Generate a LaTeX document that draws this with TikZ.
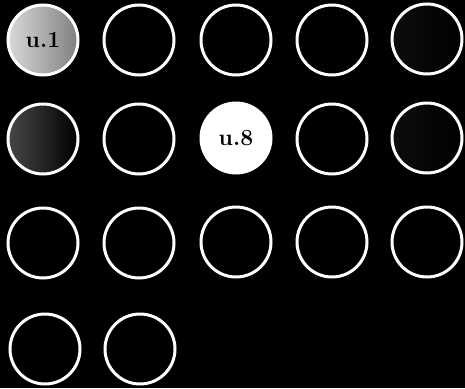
\documentclass[tikz,border=0pt]{standalone}
\usepackage{fontspec}
\begin{document}
\begin{tikzpicture}[x=1pt,y=-1pt,
  cell/.style={circle,draw=white,line width=3pt,minimum size=70pt,inner sep=0pt,fill=black,font=\bfseries\fontsize{23}{23}\selectfont},
  lit/.style={cell,fill=white,text=black},
  dim/.style={cell,left color=white!85!black,right color=white!50!black,text=black},
  faint/.style={cell,left color=white!28!black,right color=black},
  veryfaint/.style={cell,left color=white!5!black,right color=black}]
\fill[black] (0,0) rectangle (465,388);
\useasboundingbox (0,0) rectangle (465,388);
\node[dim] (u1) at (43,40) {u.1};
\node[cell] (u2) at (139,40) {};
\node[cell] (u3) at (236,40) {};
\node[cell] (u4) at (332,40) {};
\node[veryfaint] (u5) at (427,39) {};
\node[faint] (u6) at (43,139) {};
\node[cell] (u7) at (139,139) {};
\node[lit] (u8) at (236,138) {u.8};
\node[cell] (u9) at (332,139) {};
\node[veryfaint] (u10) at (427,138) {};
\node[cell] (u11) at (43,243) {};
\node[cell] (u12) at (139,243) {};
\node[cell] (u13) at (236,242) {};
\node[cell] (u14) at (332,242) {};
\node[cell] (u15) at (427,242) {};
\node[cell] (u16) at (45,349) {};
\node[cell] (u17) at (140,349) {};
\end{tikzpicture}
\end{document}
